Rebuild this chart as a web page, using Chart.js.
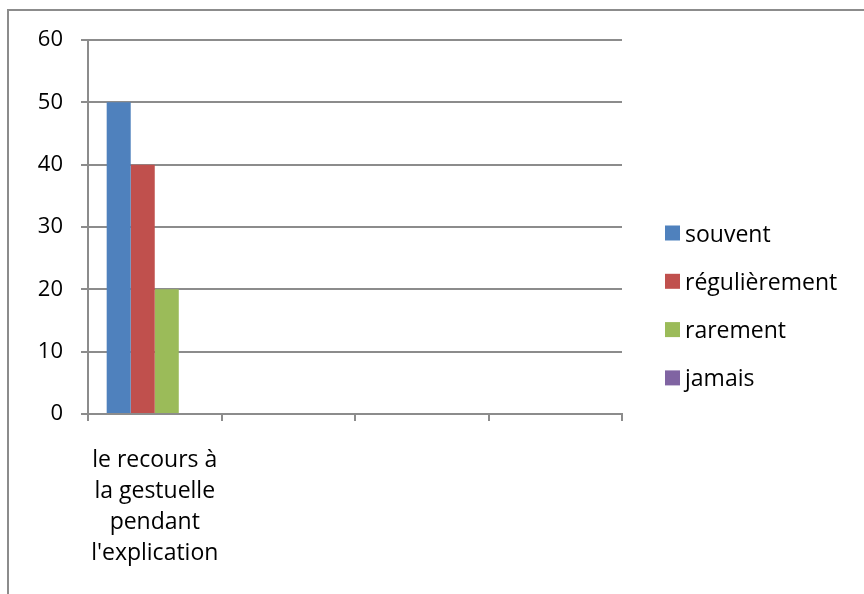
<!DOCTYPE html>
<html>
<head>
<meta charset="utf-8">
<script src="https://cdn.jsdelivr.net/npm/chart.js@4.4.1/dist/chart.umd.min.js"></script>
<style>
  html, body { margin: 0; padding: 0; background: #fff; }
  #wrap { position: relative; width: 864px; height: 594px; overflow: hidden; }
  #frame { position: absolute; left: 7px; top: 9px; width: 900px; height: 700px;
           border-left: 2px solid #8c8c8c; border-top: 2px solid #8c8c8c; }
  canvas { position: absolute; left: 0; top: 0; }
</style>
</head>
<body>
<div id="wrap">
  <div id="frame"></div>
  <canvas id="chart" width="864" height="594"></canvas>
</div>
<script>
const categories = [
  ['le recours à', 'la gestuelle', 'pendant', "l'explication"],
  '', '', ''
];
const seriesNames = ['souvent', 'régulièrement', 'rarement', 'jamais'];
const seriesColors = ['#4F81BD', '#C0504D', '#9BBB59', '#8064A2'];
const souvent = [50, null, null, null];
const regulierement = [40, null, null, null];
const rarement = [20, null, null, null];
const jamais = [0, null, null, null];
const yTicks = [0, 10, 20, 30, 40, 50, 60];

const seriesValues = [souvent, regulierement, rarement, jamais];
const FONT = '"Open Sans", sans-serif';
const GRID = '#8c8c8c';

// legend drawn at the right, Excel style
const sideLegend = {
  id: 'sideLegend',
  afterDraw(chart) {
    const ctx = chart.ctx;
    ctx.save();
    ctx.font = '23px ' + FONT;
    ctx.textBaseline = 'middle';
    ctx.textAlign = 'left';
    chart.data.datasets.forEach((ds, i) => {
      const y = 233 + i * 48.3;
      ctx.fillStyle = ds.backgroundColor;
      ctx.fillRect(665, y - 7.5, 15, 15);
      ctx.fillStyle = '#000';
      ctx.fillText(ds.label, 685, y + 2);
    });
    ctx.restore();
  }
};

new Chart(document.getElementById('chart'), {
  type: 'bar',
  data: {
    labels: categories,
    datasets: seriesNames.map((name, i) => ({
      label: name,
      data: seriesValues[i],
      backgroundColor: seriesColors[i],
      categoryPercentage: 0.72,
      barPercentage: 1,
      borderWidth: 0
    }))
  },
  options: {
    responsive: false,
    animation: false,
    layout: { padding: { left: 0, top: 40, right: 242, bottom: 0 } },
    plugins: {
      legend: { display: false },
      tooltip: { enabled: false }
    },
    scales: {
      x: {
        grid: { offset: true, drawOnChartArea: false, color: GRID, lineWidth: 2, tickLength: 7 },
        border: { color: GRID, width: 2 },
        ticks: { color: '#000', font: { family: FONT, size: 23, lineHeight: '31px' }, padding: 24, maxRotation: 0, autoSkip: false },
        afterFit(scale) { scale.height = 180; }
      },
      y: {
        min: 0, max: 60,
        afterBuildTicks(scale) { scale.ticks = yTicks.map(v => ({ value: v })); },
        grid: { color: GRID, lineWidth: 2, tickLength: 7 },
        border: { color: GRID, width: 2 },
        ticks: { color: '#000', font: { family: FONT, size: 22 }, padding: 18 },
        afterFit(scale) { scale.width = 88; }
      }
    }
  },
  plugins: [sideLegend]
});
</script>
</body>
</html>
